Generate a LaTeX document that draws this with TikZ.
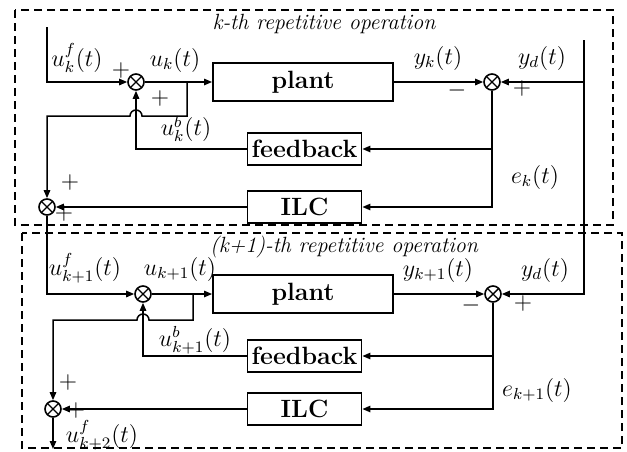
\documentclass[tikz,border=0pt]{standalone}
\usepackage{tikz}
\usetikzlibrary{arrows.meta,calc}
\tikzset{
    block/.style={
        draw,line width=0.9pt,
        minimum width=57pt,minimum height=16pt,inner sep=1pt,
        font=\fontsize{12.5}{14}\selectfont\bfseries
    },
    plant block/.style={block,minimum width=90pt,minimum height=19pt},
    summer/.style={
        draw,circle,line width=0.8pt,minimum size=8pt,inner sep=0pt,
        path picture={\draw[line width=0.7pt]
            (path picture bounding box.north west)--(path picture bounding box.south east)
            (path picture bounding box.north east)--(path picture bounding box.south west);}
    },
    sig/.style={font=\fontsize{12}{14}\selectfont,inner sep=0.5pt},
    stage frame/.style={line width=0.8pt,dash pattern=on 4pt off 2.5pt},
    stage title/.style={font=\fontsize{11}{13}\selectfont\itshape,inner sep=1pt},
    >={Triangle[length=4pt,width=3.2pt]}
}

\begin{document}
\begin{tikzpicture}[x=0.5pt,y=-0.5pt,line width=0.75pt]
\useasboundingbox (0,0) rectangle (627,451);
% frames of the two operations
\draw[stage frame] (15,10) rectangle (613,225);
\draw[stage frame] (22,233) rectangle (622,448);
\node[stage title] (title1) at (324,24) {k-th repetitive operation};
\node[stage title] (title2) at (344,247) {(k+1)-th repetitive operation};

% k-th operation
\node[summer] (sumA1) at (136,82) {};
\node[plant block] (plant1) at (303,82) {plant};
\node[block] (feedback1) at (304.5,149) {feedback};
\node[block] (ILC1) at (304.5,207) {ILC};
\node[summer] (sumB1) at (492,82) {};
\node[summer] (sumC1) at (47,207) {};
\coordinate (in1) at (47,27);
\coordinate (br1) at (187,82);
\coordinate (hop1) at (136,116);
\coordinate (ydtop) at (584,40);

\draw[->] (in1) |- (sumA1.west);
\draw[->] (sumA1.east) -- (plant1.west);
\draw[->] (br1) |- ([xshift=3pt]hop1) arc[start angle=0,end angle=180,radius=3pt] -| (sumC1.north);
\draw[->] (feedback1.west) -| (sumA1.south);
\draw[->] (ILC1.west) -- (sumC1.east);
\draw[->] (plant1.east) -- (sumB1.west);
\draw[->] (sumB1.east -| ydtop) -- (sumB1.east);
\draw[->] (sumB1.south) |- (ILC1.east);
\draw[->] (sumB1 |- feedback1.east) -- (feedback1.east);

% (k+1)-th operation
\node[summer] (sumA2) at (143,294) {};
\node[plant block] (plant2) at (303,294) {plant};
\node[block] (feedback2) at (304.5,356) {feedback};
\node[block] (ILC2) at (304.5,409) {ILC};
\node[summer] (sumB2) at (493,294) {};
\node[summer] (sumC2) at (53,409) {};
\coordinate (br2) at (193,294);
\coordinate (hop2) at (143,320);
\coordinate (out2) at (53,449);

\draw[->] (sumC1.south) |- (sumA2.west);
\draw[->] (sumA2.east) -- (plant2.west);
\draw[->] (br2) |- ([xshift=3pt]hop2) arc[start angle=0,end angle=180,radius=3pt] -| (sumC2.north);
\draw[->] (feedback2.west) -| (sumA2.south);
\draw[->] (ILC2.west) -- (sumC2.east);
\draw[->] (plant2.east) -- (sumB2.west);
\draw[->] (ydtop) |- (sumB2.east);
\draw[->] (sumB2.south) |- (ILC2.east);
\draw[->] (sumB2 |- feedback2.east) -- (feedback2.east);
\draw[->] (sumC2.south) -- (out2);

% signals
\node[sig] (ukf) at (77,58) {$u_k^f(t)$};
\node[sig] (uk) at (175,60) {$u_k(t)$};
\node[sig] (ukb) at (186,129) {$u_k^b(t)$};
\node[sig] (yk) at (438,58) {$y_k(t)$};
\node[sig] (yd1) at (542,58) {$y_d(t)$};
\node[sig] (ek) at (535,177) {$e_k(t)$};
\node[sig] (ukf1) at (85,268) {$u_{k+1}^f(t)$};
\node[sig] (uk1) at (180,269) {$u_{k+1}(t)$};
\node[sig] (ukb1) at (195,340) {$u_{k+1}^b(t)$};
\node[sig] (yk1) at (438,270) {$y_{k+1}(t)$};
\node[sig] (yd2) at (545,270) {$y_d(t)$};
\node[sig] (ek1) at (537,390) {$e_{k+1}(t)$};
\node[sig] (ukf2) at (102,435) {$u_{k+2}^f(t)$};

% signs
\foreach \i/\x/\y in {1/121/70,2/160/98,3/70/182,4/64/213,5/522/88,6/68/382,7/76/410,8/523/303}
    \node[sig] (plus\i) at (\x,\y) {$+$};
\foreach \i/\x/\y in {1/457/90,2/471/305}
    \node[sig] (minus\i) at (\x,\y) {$-$};
\end{tikzpicture}
\end{document}
